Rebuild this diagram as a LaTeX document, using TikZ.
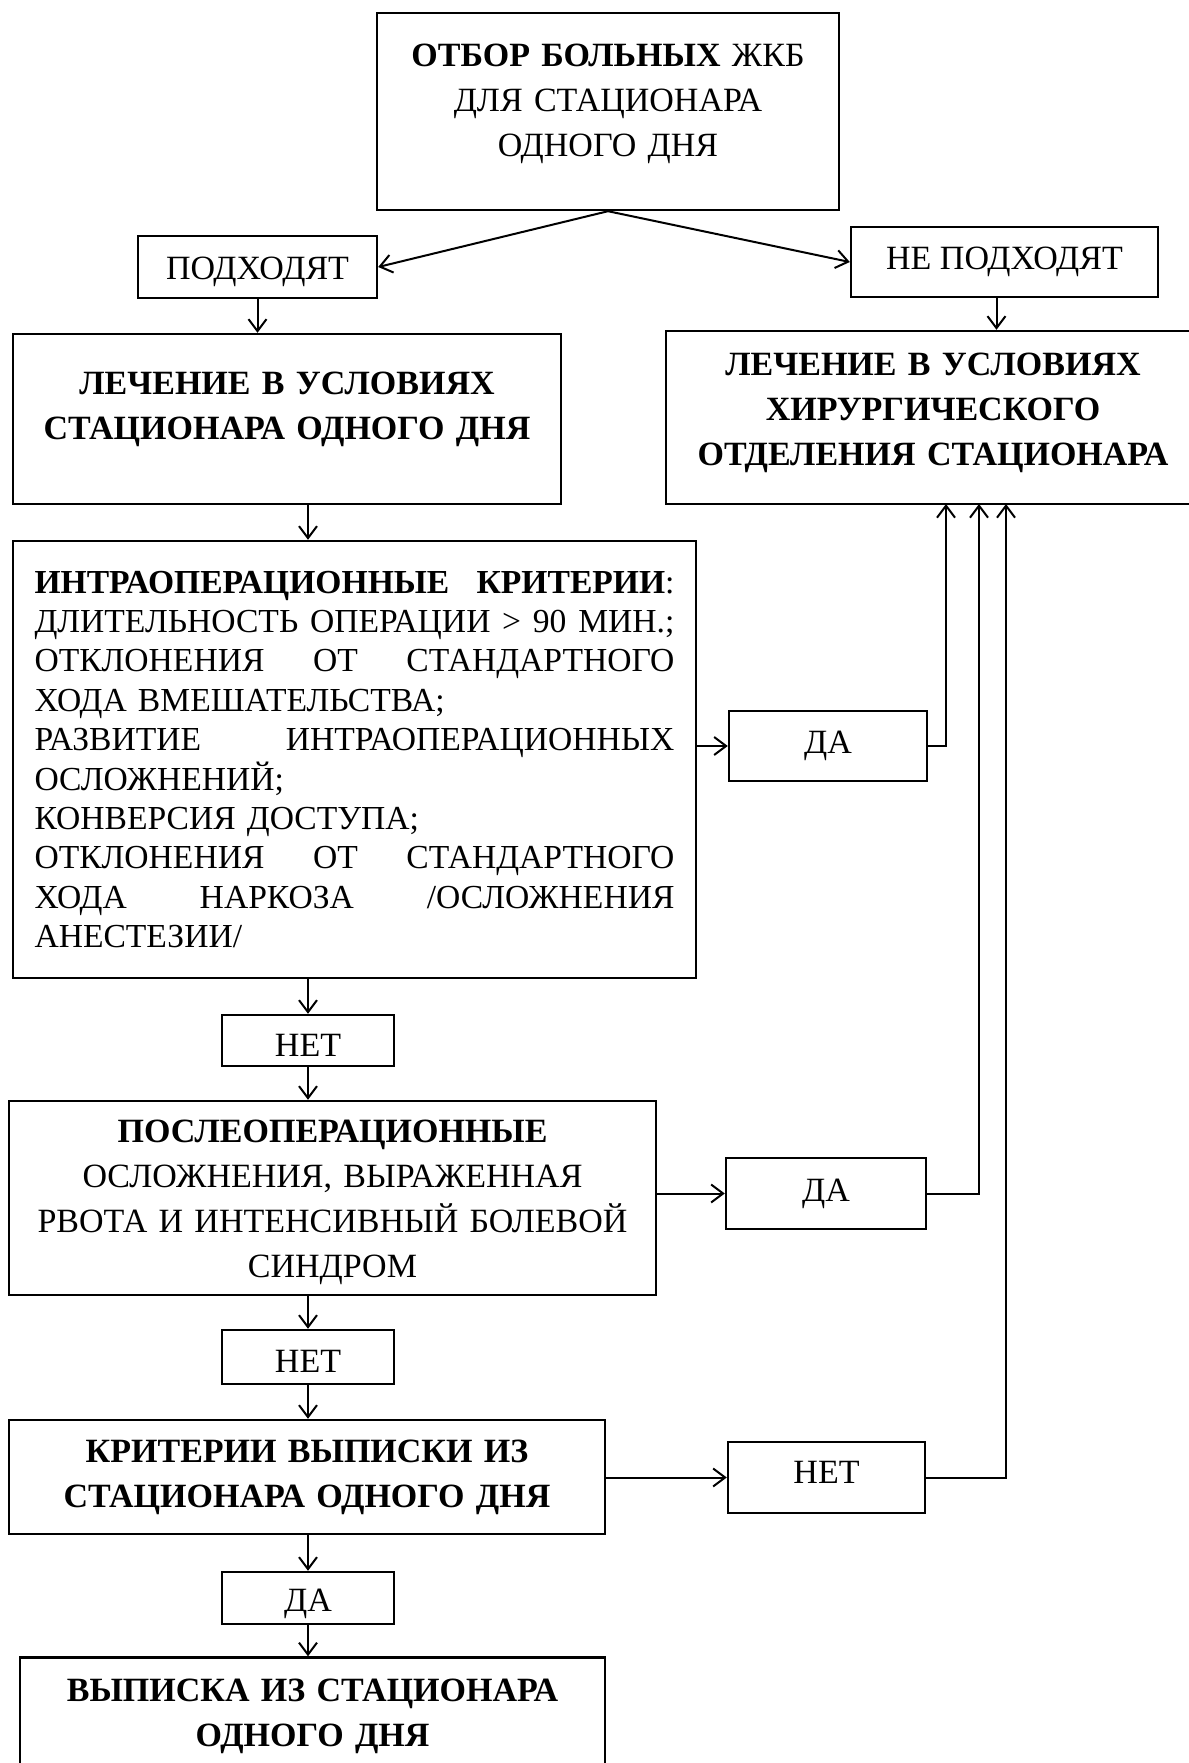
\documentclass[tikz,border=0pt]{standalone}
\usepackage{fontspec}
\setmainfont{Liberation Serif}
\usetikzlibrary{arrows.meta}

\newlength{\introw}
\setlength{\introw}{320pt}
\newcommand{\jline}[1]{\makebox[\introw][l]{#1}}
% invisible strut that deepens (or heightens) a line of a box
\newcommand{\lowstrut}[1]{\rule[-#1]{0pt}{0pt}}

\begin{document}
\begin{tikzpicture}[x=0.5pt,y=-0.5pt]
      \tikzstyle{blk}=[rectangle,draw,line width=1.2pt,inner sep=0pt,align=center,font=\fontsize{17}{22.5}\selectfont]
      \tikzstyle{every node}=[blk]
      \tikzstyle{link}=[line width=1pt,-{Straight Barb[length=6pt,width=9pt]}]
      \useasboundingbox (0,0) rectangle (1189,1763);
      \clip (0,0) rectangle (1189,1763);
      % upper part
      \node[minimum width=231pt,minimum height=98.5pt,text width=220pt] (sel) at (608,111.5)
        {\textbf{ОТБОР БОЛЬНЫХ} ЖКБ\\ДЛЯ СТАЦИОНАРА\\ОДНОГО ДНЯ\lowstrut{11.6pt}};
      \node[minimum width=119.5pt,minimum height=31pt,text height=12.4pt,text depth=0pt] (fit) at (257.5,267) {ПОДХОДЯТ};
      \node[minimum width=153.5pt,minimum height=35pt] (unfit) at (1004.5,262) {НЕ ПОДХОДЯТ};
      \node[minimum width=274pt,minimum height=85pt,text width=264pt] (day) at (287,419)
        {\bfseries ЛЕЧЕНИЕ В УСЛОВИЯХ\\СТАЦИОНАРА ОДНОГО ДНЯ\lowstrut{13.7pt}};
      \node[minimum width=267pt,minimum height=86.5pt,text width=257pt] (surg) at (933,417.5)
        {\bfseries ЛЕЧЕНИЕ В УСЛОВИЯХ\\ХИРУРГИЧЕСКОГО\\ОТДЕЛЕНИЯ СТАЦИОНАРА\lowstrut{8.7pt}};
      % criteria
      \node[minimum width=341.5pt,minimum height=218.5pt,text width=\introw,align=left,
            font=\fontsize{16.8}{19.7}\selectfont] (intra) at (354.5,759.5)
        {\jline{\textbf{ИНТРАОПЕРАЦИОННЫЕ} \hfill \textbf{КРИТЕРИИ}:}\\
         \jline{ДЛИТЕЛЬНОСТЬ \hfill ОПЕРАЦИИ \hfill > \hfill 90 \hfill МИН.;}\\
         \jline{ОТКЛОНЕНИЯ \hfill ОТ \hfill СТАНДАРТНОГО}\\
         ХОДА ВМЕШАТЕЛЬСТВА;\\
         \jline{РАЗВИТИЕ \hfill ИНТРАОПЕРАЦИОННЫХ}\\
         ОСЛОЖНЕНИЙ;\\
         КОНВЕРСИЯ ДОСТУПА;\\
         \jline{ОТКЛОНЕНИЯ \hfill ОТ \hfill СТАНДАРТНОГО}\\
         \jline{ХОДА \hfill НАРКОЗА \hfill /ОСЛОЖНЕНИЯ}\\
         АНЕСТЕЗИИ/};
      \node[minimum width=99pt,minimum height=35pt] (da1) at (828,746) {ДА};
      \node[minimum width=86pt,minimum height=25.5pt,text height=15.8pt,text depth=0pt] (net1) at (308,1040.5) {НЕТ};
      \node[minimum width=323.5pt,minimum height=97pt,text width=313pt] (post) at (332.5,1198)
        {\rule{0pt}{15.8pt}\textbf{ПОСЛЕОПЕРАЦИОННЫЕ}\\ОСЛОЖНЕНИЯ, ВЫРАЖЕННАЯ\\РВОТА И ИНТЕНСИВНЫЙ БОЛЕВОЙ\\СИНДРОМ};
      \node[minimum width=100pt,minimum height=35.5pt] (da2) at (826,1193.5) {ДА};
      \node[minimum width=86pt,minimum height=27pt,text height=15.8pt,text depth=0pt] (net2) at (308,1357) {НЕТ};
      \node[minimum width=298pt,minimum height=57pt,text width=288pt] (crit) at (307,1477)
        {\bfseries КРИТЕРИИ ВЫПИСКИ ИЗ\\СТАЦИОНАРА ОДНОГО ДНЯ};
      \node[minimum width=98.5pt,minimum height=35.5pt,text height=11.3pt,text depth=5.6pt] (net3) at (826.5,1477.5) {НЕТ};
      \node[minimum width=86pt,minimum height=26pt,text height=13.5pt,text depth=0pt] (da3) at (308,1598) {ДА};
      \node[minimum width=292.5pt,minimum height=58.5pt,text width=282pt] (fin) at (312.5,1716)
        {\bfseries ВЫПИСКА ИЗ СТАЦИОНАРА\\ОДНОГО ДНЯ};
      % return lines
      \coordinate (r1) at (946,504);
      \coordinate (r2) at (979,504);
      \coordinate (r3) at (1006,504);
      \draw[link] (sel.south) -- (fit.east);
      \draw[link] (sel.south) -- (unfit.west);
      \draw[link] (fit.south) -- (fit.south |- day.north);
      \draw[link] ([xshift=-4pt]unfit.south) -- ([xshift=-4pt]unfit.south |- surg.north);
      \draw[link] (net1 |- day.south) -- (net1 |- intra.north);
      \draw[link] (intra.east |- da1.west) -- (da1.west);
      \draw[link] (da1.east) -| (r1);
      \draw[link] (intra.south -| net1) -- (net1.north);
      \draw[link] (net1.south) -- (net1.south |- post.north);
      \draw[link] (post.east |- da2.west) -- (da2.west);
      \draw[link] (da2.east) -| (r2);
      \draw[link] (post.south -| net2) -- (net2.north);
      \draw[link] (net2.south) -- (net2.south |- crit.north);
      \draw[link] (crit.east |- net3.west) -- (net3.west);
      \draw[link] (net3.east) -| (r3);
      \draw[link] (crit.south -| da3) -- (da3.north);
      \draw[link] (da3.south) -- (da3.south |- fin.north);
\end{tikzpicture}
\end{document}
